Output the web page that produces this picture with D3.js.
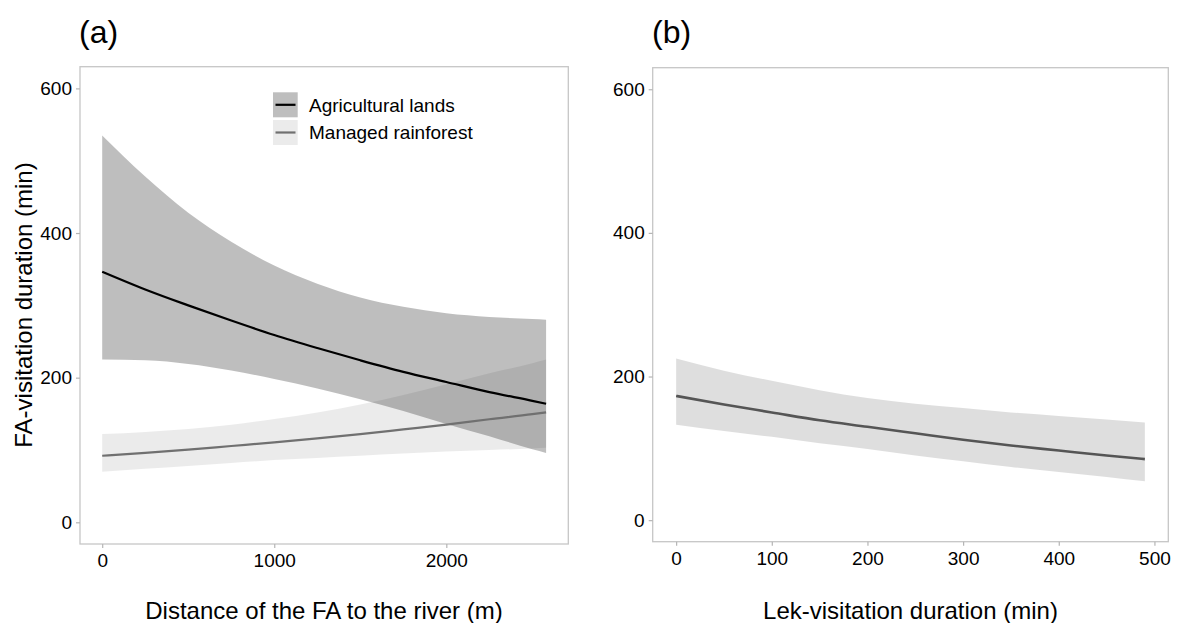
<!DOCTYPE html>
<html>
<head>
<meta charset="utf-8">
<script src="https://cdn.jsdelivr.net/npm/d3@7"></script>
<style>
  html, body { margin: 0; padding: 0; background: #fff; }
  svg { display: block; }
  text { font-family: Arial, "Liberation Sans", sans-serif; fill: #000; }
</style>
</head>
<body>
<svg id="chart" width="1181" height="623"></svg>
<script>
// ---------- data ----------
const distX    = [0, 250, 500, 750, 1000, 1250, 1500, 1750, 2000, 2250, 2500, 2580];
const agriFit  = [346.5, 322, 300, 279, 259, 241, 224, 208, 194, 180, 168, 164];
const agriUp   = [535, 478, 428, 388, 355, 330, 311, 298, 289, 284, 281, 280];
const agriLow  = [225, 224, 219, 210, 198, 185, 170, 154, 136, 119, 101, 96];
const manFit   = [92, 96, 100.5, 105.5, 110.5, 116, 122, 128.5, 135, 142.5, 149.5, 152];
const manUp    = [122, 125, 129, 135, 143, 152, 163, 176, 191, 206, 220, 225];
const manLow   = [70, 74, 78, 82, 86, 89, 92, 95, 98, 100, 102, 103];

const lekX     = [0, 50, 100, 150, 200, 250, 300, 350, 400, 450, 490];
const lekFit   = [173, 161, 150, 139, 130, 121, 112, 104, 97, 90, 85];
const lekUp    = [225, 208, 194, 181, 170, 162, 156, 150, 145, 140, 136];
const lekLow   = [133, 124, 116, 107, 99, 90, 82, 74, 67, 60, 54];

const yTicks   = [0, 200, 400, 600];
const xTicksA  = [0, 1000, 2000];
const xTicksB  = [0, 100, 200, 300, 400, 500];
const legendLabels = ["Agricultural lands", "Managed rainforest"];

// ---------- layout ----------
const svg = d3.select("#chart");
const tickFont = 19;

const xA = d3.scaleLinear().domain([-129, 2709]).range([80, 568.3]);
const yA = d3.scaleLinear().domain([-30, 630]).range([544, 66.7]);
const xB = d3.scaleLinear().domain([-24.5, 514.5]).range([652.7, 1168.3]);
const yB = d3.scaleLinear().domain([-30, 630]).range([541.7, 67.7]);

function panelFrame(x, y) {
  svg.append("rect")
    .attr("x", x.range()[0]).attr("y", y.range()[1])
    .attr("width", x.range()[1] - x.range()[0])
    .attr("height", y.range()[0] - y.range()[1])
    .attr("fill", "none").attr("stroke", "#c6c6c6").attr("stroke-width", 1.3);
}

function axes(x, y, xt) {
  const gx = svg.append("g").attr("transform", `translate(0,${y.range()[0]})`)
    .call(d3.axisBottom(x).tickValues(xt).tickFormat(d3.format("d")).tickSize(4).tickPadding(6));
  const gy = svg.append("g").attr("transform", `translate(${x.range()[0]},0)`)
    .call(d3.axisLeft(y).tickValues(yTicks).tickFormat(d3.format("d")).tickSize(4).tickPadding(4));
  [gx, gy].forEach(g => {
    g.select(".domain").remove();
    g.selectAll(".tick line").attr("stroke", "#b5b5b5").attr("stroke-width", 1.2);
    g.selectAll(".tick text").attr("font-size", tickFont)
      .attr("font-family", "Arial, 'Liberation Sans', sans-serif").attr("fill", "#111");
  });
}

function band(x, y, xs, lo, hi, fill, op) {
  const data = xs.map((d, i) => ({x: d, lo: lo[i], hi: hi[i]}));
  svg.append("path").datum(data)
    .attr("d", d3.area().x(d => x(d.x)).y0(d => y(d.lo)).y1(d => y(d.hi)).curve(d3.curveMonotoneX))
    .attr("fill", fill).attr("fill-opacity", op);
}
function line(x, y, xs, ys, color, w) {
  const data = xs.map((d, i) => ({x: d, y: ys[i]}));
  svg.append("path").datum(data)
    .attr("d", d3.line().x(d => x(d.x)).y(d => y(d.y)).curve(d3.curveMonotoneX))
    .attr("fill", "none").attr("stroke", color).attr("stroke-width", w);
}

// ---------- panel (a) ----------
band(xA, yA, distX, manLow, manUp, "#000", 0.08);
band(xA, yA, distX, agriLow, agriUp, "#000", 0.255);
line(xA, yA, distX, manFit, "#707070", 2.2);
line(xA, yA, distX, agriFit, "#000", 2.2);
panelFrame(xA, yA);
axes(xA, yA, xTicksA);

// legend
const legKeys = [
  {y: 92.3, fill: "#bebebe", line: "#000"},
  {y: 120, fill: "#ebebeb", line: "#707070"}
];
legKeys.forEach((k, i) => {
  svg.append("rect").attr("x", 273).attr("y", k.y).attr("width", 24.7).attr("height", 25)
    .attr("fill", k.fill);
  svg.append("line").attr("x1", 275.5).attr("x2", 295.5)
    .attr("y1", k.y + 12.5).attr("y2", k.y + 12.5)
    .attr("stroke", k.line).attr("stroke-width", 2.2);
  svg.append("text").attr("x", 309).attr("y", k.y + 19.2)
    .attr("font-size", 19).text(legendLabels[i]);
});

// ---------- panel (b) ----------
band(xB, yB, lekX, lekLow, lekUp, "#000", 0.13);
line(xB, yB, lekX, lekFit, "#555", 2.6);
panelFrame(xB, yB);
axes(xB, yB, xTicksB);

// ---------- titles ----------
svg.append("text").attr("x", 324).attr("y", 619).attr("text-anchor", "middle")
  .attr("font-size", 24).text("Distance of the FA to the river (m)");
svg.append("text").attr("x", 910.5).attr("y", 619).attr("text-anchor", "middle")
  .attr("font-size", 24).text("Lek-visitation duration (min)");
svg.append("text").attr("transform", "translate(32,305) rotate(-90)")
  .attr("text-anchor", "middle").attr("font-size", 24).text("FA-visitation duration (min)");

svg.append("text").attr("x", 79).attr("y", 43).attr("font-size", 32)
  .attr("font-family", "Lato, 'Open Sans', sans-serif").text("(a)");
svg.append("text").attr("x", 652).attr("y", 43).attr("font-size", 32)
  .attr("font-family", "Lato, 'Open Sans', sans-serif").text("(b)");
</script>
</body>
</html>
